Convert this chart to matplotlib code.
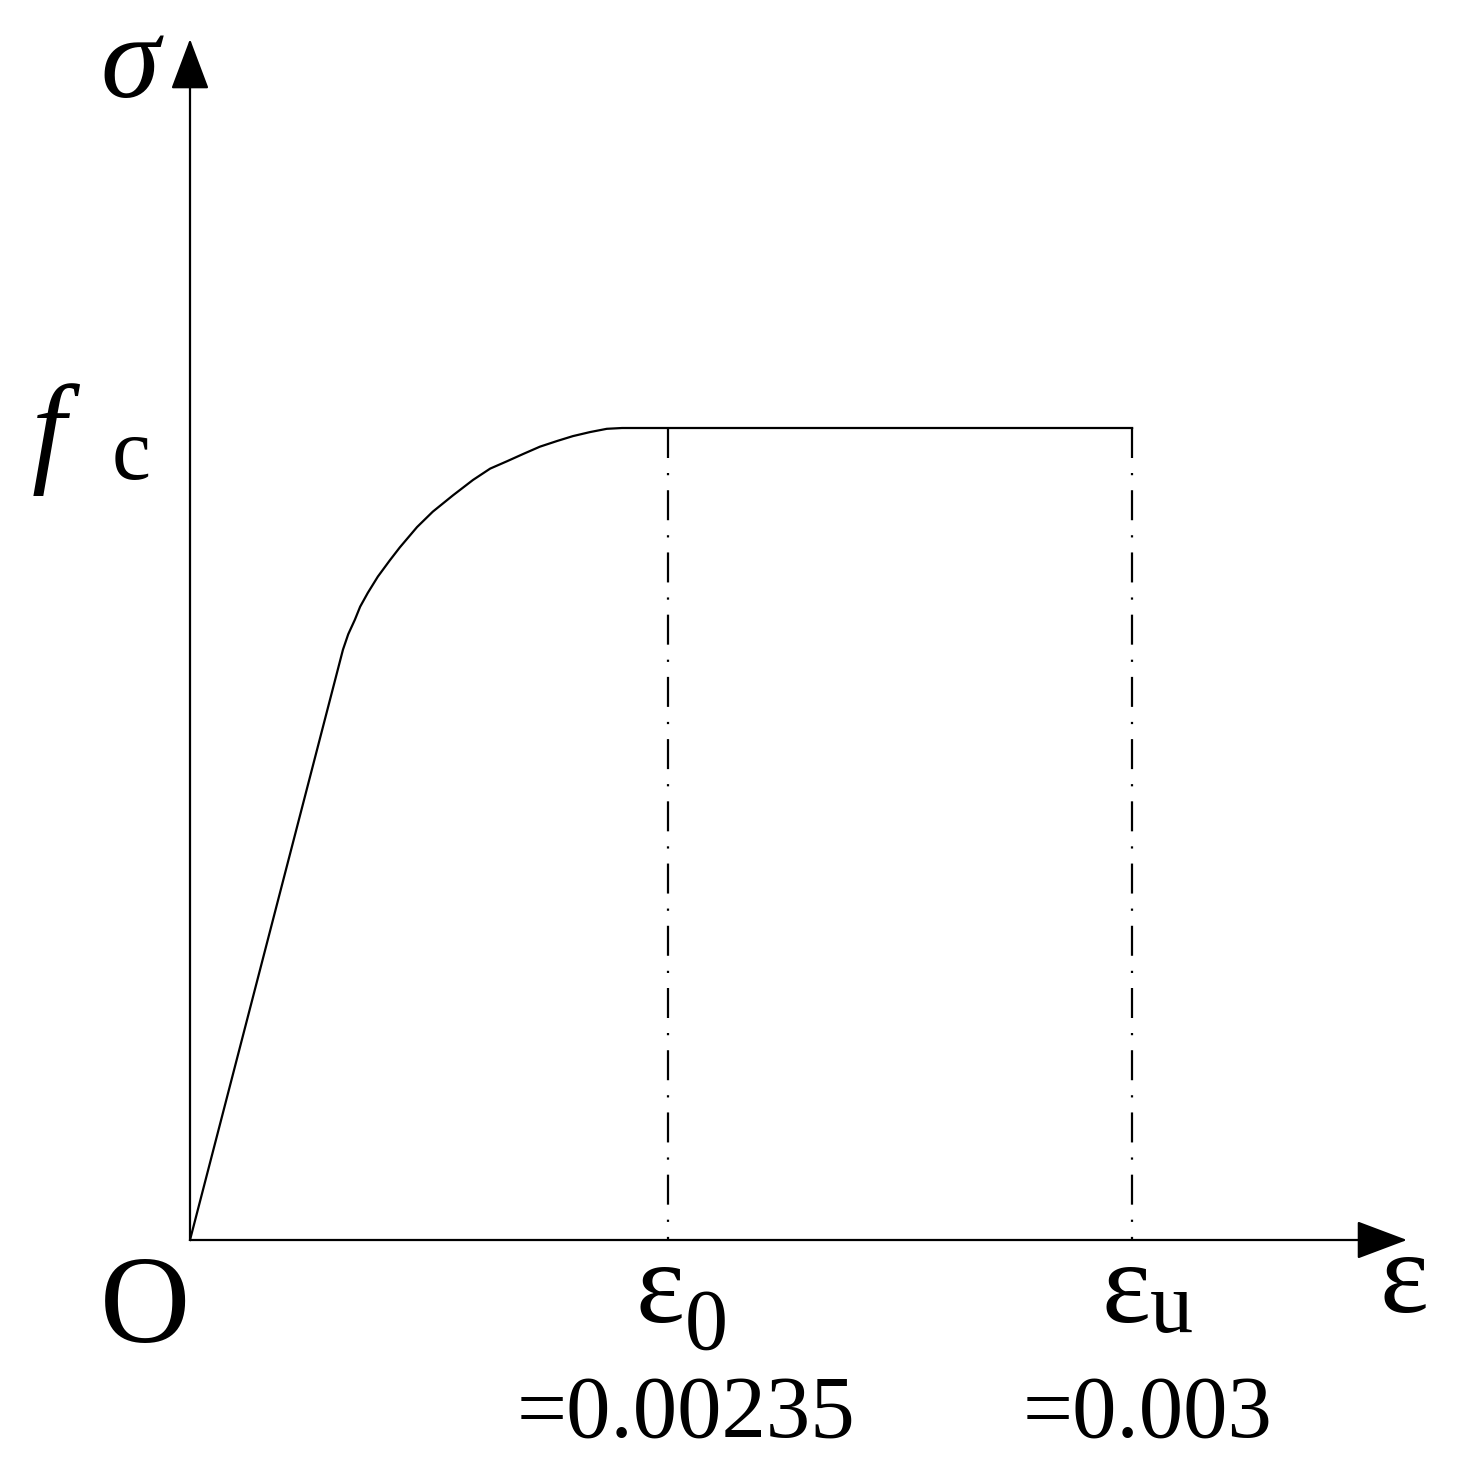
import matplotlib.pyplot as plt

plt.rcParams['font.family'] = ['Liberation Serif', 'DejaVu Serif']
plt.rcParams['lines.scale_dashes'] = False

# schematic stress-strain curve (strain in units of eps0, stress in units of fc)
strain = [0.0, 0.320, 0.331, 0.345, 0.356, 0.372, 0.393, 0.418, 0.439, 0.475,
          0.508, 0.550, 0.592, 0.628, 0.663, 0.697, 0.732, 0.768, 0.801,
          0.837, 0.872, 0.904, 1.971]
stress = [0.0, 0.727, 0.746, 0.764, 0.780, 0.797, 0.817, 0.837, 0.853, 0.878,
          0.897, 0.917, 0.936, 0.950, 0.959, 0.968, 0.977, 0.984, 0.990,
          0.995, 0.999, 1.0, 1.0]

mark_pos = [1.0, 1.971]          # eps0, epsu on the schematic axis
mark_sub = ['0', 'u']
mark_val = ['=0.00235', '=0.003']

x_tip, y_tip = 2.546, 1.479      # axis arrow ends


def px(x, y):
    # pixel position in the 1458x1484 picture -> data coords
    return (x - 190) / 478, (1240 - y) / 812


fig = plt.figure(figsize=(14.58, 14.84), dpi=100)
ax = fig.add_axes([0, 0, 1, 1])
ax.set_xlim(-190 / 478, (1458 - 190) / 478)
ax.set_ylim((1240 - 1484) / 812, 1240 / 812)
ax.axis('off')

lw = 1.6
arrow = dict(arrowstyle='-|>,head_length=1.62,head_width=0.61', mutation_scale=20,
             color='black', lw=lw, shrinkA=0, shrinkB=0)
ax.annotate('', xy=(x_tip, 0), xytext=(0, 0), arrowprops=arrow)
ax.annotate('', xy=(0, y_tip), xytext=(0, 0), arrowprops=arrow)

# curve
ax.plot(strain, stress, color='black', lw=lw, solid_joinstyle='round')

# dash-dot verticals
for m in mark_pos:
    ax.plot([m, m], [1.0, 0.0], color='black', lw=lw,
            linestyle=(0, (21.6, 10.8, 1.6, 10.8)))

# labels
ax.text(*px(100, 97), 'σ', fontsize=86, style='italic', va='baseline', ha='left')
ax.text(*px(32, 470), 'f', fontsize=88, style='italic', va='baseline', ha='left')
ax.text(*px(112, 479), 'c', fontsize=63, va='baseline', ha='left')
ax.text(*px(100, 1342), 'O', fontsize=90, va='baseline', ha='left')
ax.text(*px(1380, 1312), 'ε', fontsize=84, va='baseline', ha='left')

sub_left = [685, 1150]
sub_base = [1349, 1332]
val_left = [517, 1023]
for s, v, sl, sb, vl in zip(mark_sub, mark_val, sub_left, sub_base, val_left):
    ax.text(px(sl, 0)[0], px(0, 1322)[1], 'ε', fontsize=84,
            va='baseline', ha='right')
    ax.text(px(sl, 0)[0], px(0, sb)[1], s, fontsize=62, va='baseline', ha='left')
    ax.text(px(vl, 0)[0], px(0, 1437)[1], v, fontsize=64, va='baseline', ha='left')

fig.savefig('out.png', dpi=100)
